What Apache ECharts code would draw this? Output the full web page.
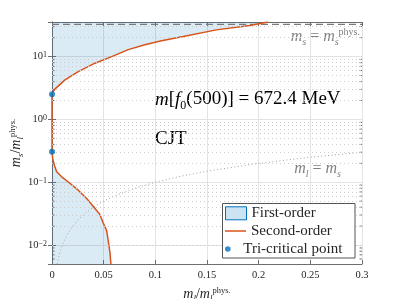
<!DOCTYPE html>
<html><head><meta charset="utf-8">
<script src="https://cdn.jsdelivr.net/npm/echarts@6/dist/echarts.min.js"></script>
<style>html,body{margin:0;padding:0;background:#fff}#c{width:399px;height:299px}</style>
</head><body><div id="c"></div>
<script>
// ---- data ----
const upperX = [0, 0.001, 0.003, 0.0126, 0.0254, 0.0416, 0.0577, 0.0738, 0.0899, 0.106, 0.127, 0.159, 0.1915, 0.209];
const upperY = [2.52, 2.75, 3.06, 4.26, 5.77, 7.85, 10.0, 12.9, 15.4, 17.8, 20.8, 26.6, 31.2, 35.5];
const lowerX = [0, 0.0008, 0.0023, 0.0045, 0.0094, 0.0158, 0.0254, 0.0340, 0.0416, 0.0464, 0.0496, 0.0529, 0.0545, 0.0561, 0.0570];
const lowerY = [0.305, 0.23, 0.187, 0.147, 0.122, 0.101, 0.0748, 0.054, 0.0383, 0.0305, 0.0225, 0.017, 0.0115, 0.0075, 0.005];
const triX = [0, 0];
const triY = [2.52, 0.305];
const msPhysX = [0, 0.3];
const msPhysY = [32.6, 32.6];
const mlEqMsX = [0.005, 0.006, 0.007, 0.008, 0.01, 0.0125, 0.015, 0.02, 0.025, 0.03, 0.04, 0.05, 0.06, 0.08, 0.1, 0.125, 0.15, 0.2, 0.25, 0.3];
const mlEqMsY = [0.005, 0.006, 0.007, 0.008, 0.01, 0.0125, 0.015, 0.02, 0.025, 0.03, 0.04, 0.05, 0.06, 0.08, 0.1, 0.125, 0.15, 0.2, 0.25, 0.3];
const yMajorTicks = [0.01, 0.1, 1, 10];
const yTickLabels = ['10{sup|−2}', '10{sup|−1}', '10{sup|0}', '10{sup|1}'];
const yMinorTicks = [0.006, 0.007, 0.008, 0.009, 0.02, 0.03, 0.04, 0.05, 0.06, 0.07, 0.08, 0.09,
  0.2, 0.3, 0.4, 0.5, 0.6, 0.7, 0.8, 0.9, 2, 3, 4, 5, 6, 7, 8, 9, 20, 30];
const xMin = 0, xMax = 0.3, xStep = 0.05;
const yMin = 0.005, yMax = 35.5;

const zip = (a, b) => a.map((v, i) => [v, b[i]]);
const secondOrder = zip(upperX, upperY).reverse().concat(zip(lowerX, lowerY));

const SERIF = 'Liberation Serif';
const BLUE = '#0072BD', ORANGE = '#D95319', FILL = 'rgba(0,114,189,0.2)';
const FRAME = '#6e6e6e', TXT = '#262626';

const chart = echarts.init(document.getElementById('c'), null, {renderer: 'canvas'});
const supRich = {sup: {fontSize: 8, fontFamily: SERIF, verticalAlign: 'top', lineHeight: 7, color: TXT}};
const nameRich = {
  i: {fontStyle: 'italic', fontFamily: SERIF, fontSize: 14, lineHeight: 17, color: TXT},
  n: {fontFamily: SERIF, fontSize: 14, lineHeight: 17, color: TXT},
  s: {fontStyle: 'italic', fontFamily: SERIF, fontSize: 9, verticalAlign: 'bottom', lineHeight: 9, color: TXT},
  p: {fontFamily: SERIF, fontSize: 8.5, verticalAlign: 'top', lineHeight: 8, color: TXT}
};
const legText = {fontFamily: SERIF, fontSize: 15, color: TXT};

chart.setOption({
  animation: false,
  grid: {left: 52, right: 37, top: 22, bottom: 35, outerBoundsMode: 'none', containLabel: false},
  xAxis: [{
    type: 'value', min: xMin, max: xMax, interval: xStep,
    axisLine: {onZero: false, lineStyle: {color: FRAME}},
    axisTick: {inside: true, length: 4, lineStyle: {color: FRAME}},
    axisLabel: {fontFamily: SERIF, fontSize: 10.5, color: TXT, margin: 6,
      formatter: v => String(+v.toFixed(2))},
    splitLine: {show: true, lineStyle: {color: '#e3e3e3'}},
    name: '{i|m}{s|l}{n|/}{i|m}{s|l}{p|phys.}', nameLocation: 'middle', nameGap: 22,
    nameTextStyle: {fontFamily: SERIF, fontSize: 14, color: TXT, rich: nameRich}
  }, {
    type: 'value', position: 'top', min: xMin, max: xMax, interval: xStep,
    axisLine: {onZero: false, lineStyle: {color: FRAME}},
    axisTick: {inside: true, length: 4, lineStyle: {color: FRAME}},
    axisLabel: {show: false}, splitLine: {show: false}
  }],
  yAxis: [{
    type: 'log', min: yMin, max: yMax, logBase: 10,
    axisLine: {lineStyle: {color: FRAME}},
    axisTick: {inside: true, length: 4, lineStyle: {color: FRAME}},
    axisLabel: {fontFamily: SERIF, fontSize: 10.5, color: TXT, margin: 5, rich: supRich,
      formatter: v => {
        const i = yMajorTicks.findIndex(t => Math.abs(Math.log10(t) - Math.log10(v)) < 1e-6);
        return i < 0 ? '' : yTickLabels[i];
      }},
    splitLine: {show: true, lineStyle: {color: '#e3e3e3'}},
    name: '{i|m}{s|s}{n|/}{i|m}{s|l}{p|phys.}', nameLocation: 'middle', nameGap: 27, nameRotate: 90,
    nameMoveOverlap: false,
    nameTextStyle: {fontFamily: SERIF, fontSize: 14, color: TXT, rich: nameRich}
  }, {
    type: 'log', position: 'right', min: yMin, max: yMax, logBase: 10,
    axisLine: {lineStyle: {color: FRAME}},
    axisTick: {inside: true, length: 4, lineStyle: {color: FRAME}},
    axisLabel: {show: false}, splitLine: {show: false}
  }],
  legend: [{
    left: 225, top: 205.8, padding: 0, itemWidth: 21, itemHeight: 13, selectedMode: false,
    textStyle: legText, z: 12,
    data: [{name: 'First-order', icon: 'rect', itemStyle: {color: FILL, borderColor: BLUE, borderWidth: 1}}]
  }, {
    left: 225, top: 223.5, padding: 0, itemWidth: 21, itemHeight: 13, selectedMode: false,
    textStyle: legText, z: 12,
    data: [{name: 'Second-order', icon: 'path://M0,0 L21,0 L21,1.5 L0,1.5 Z', itemStyle: {color: ORANGE}}]
  }, {
    left: 225, top: 241.5, padding: 0, itemWidth: 21, itemHeight: 13, selectedMode: false,
    textStyle: legText, z: 12,
    data: [{name: 'Tri-critical point', itemStyle: {color: BLUE},
      icon: 'path://M0,-6.5 L0,-6.5 M0,6.5 L0,6.5 M-2.8,0 A2.8,2.8 0 1,1 2.8,0 A2.8,2.8 0 1,1 -2.8,0 Z'}]
  }],
  graphic: [
    {type: 'rect', z: 10, shape: {x: 222.5, y: 203.5, width: 132.5, height: 54.5},
     style: {fill: '#fff', stroke: '#555', lineWidth: 1}},
    {type: 'text', left: 155, top: 90, z: 5,
     style: {text: '{i|m}[{i|f}{sub|0}(500)] = 672.4 MeV', fill: '#000',
       font: '19px "Liberation Serif"',
       rich: {i: {fontStyle: 'italic', fontSize: 19, fontFamily: SERIF, lineHeight: 24},
              sub: {fontSize: 12, fontFamily: SERIF, verticalAlign: 'bottom', lineHeight: 13}}}},
    {type: 'text', left: 155, top: 130, z: 5,
     style: {text: 'CJT', fill: '#000', font: '19px "Liberation Serif"'}},
    {type: 'text', right: 39, top: 27, z: 5,
     style: {text: '{i|m}{sub|s} = {i|m}{sub|s}{sup|phys.}', fill: '#808080',
       font: '16px "Liberation Serif"',
       rich: {i: {fontStyle: 'italic', fontSize: 16, fontFamily: SERIF, lineHeight: 20, fill: '#808080'},
              sub: {fontStyle: 'italic', fontSize: 10, fontFamily: SERIF, verticalAlign: 'bottom', lineHeight: 10, fill: '#808080'},
              sup: {fontSize: 10, fontFamily: SERIF, verticalAlign: 'top', lineHeight: 9, fill: '#808080'}}}},
    {type: 'text', right: 58, top: 161, z: 5,
     style: {text: '{i|m}{sub|l} = {i|m}{sub|s}', fill: '#808080',
       font: '16px "Liberation Serif"',
       rich: {i: {fontStyle: 'italic', fontSize: 16, fontFamily: SERIF, lineHeight: 20, fill: '#808080'},
              sub: {fontStyle: 'italic', fontSize: 10, fontFamily: SERIF, verticalAlign: 'bottom', lineHeight: 10, fill: '#808080'}}}}
  ],
  series: [
    {type: 'custom', name: 'minor', silent: true, z: 1,
     data: yMinorTicks.map(v => [0, v]),
     renderItem: (params, api) => {
       const v = api.value(1);
       const a = api.coord([xMin, v]), b = api.coord([xMax, v]);
       return {type: 'group', children: [
         {type: 'line', shape: {x1: a[0], y1: a[1], x2: a[0] + 2.5, y2: a[1]}, style: {stroke: FRAME, lineWidth: 1}},
         {type: 'line', shape: {x1: b[0] - 2.5, y1: b[1], x2: b[0], y2: b[1]}, style: {stroke: FRAME, lineWidth: 1}}
       ]};
     },
     markLine: {silent: true, symbol: ['none', 'none'], label: {show: false},
       lineStyle: {type: [1, 3], color: '#cdcdcd', width: 1},
       data: yMinorTicks.map(v => ({yAxis: v}))}
    },
    {type: 'line', name: 'First-order', data: zip(upperX, upperY), showSymbol: false, symbol: 'none',
     lineStyle: {width: 0}, areaStyle: {color: FILL, origin: 'end'}, z: 2},
    {type: 'line', name: 'First-order', data: zip(lowerX, lowerY), showSymbol: false, symbol: 'none',
     lineStyle: {width: 0}, areaStyle: {color: FILL, origin: 'start'}, z: 2},
    {type: 'line', name: 'ms=phys', data: zip(msPhysX, msPhysY), symbol: 'none',
     lineStyle: {color: '#7a7a7a', width: 1.3, type: [7, 4]}, z: 3},
    {type: 'line', name: 'ml=ms', data: zip(mlEqMsX, mlEqMsY), symbol: 'none', smooth: false,
     lineStyle: {color: '#a0a0a0', width: 1, type: [1, 2.5]}, z: 3},
    {type: 'line', name: 'Second-order', data: secondOrder, symbol: 'none',
     itemStyle: {color: ORANGE}, lineStyle: {color: ORANGE, width: 1.5}, z: 4},
    {type: 'scatter', name: 'Tri-critical point', data: zip(triX, triY), symbolSize: 6,
     itemStyle: {color: BLUE}, z: 5}
  ]
});
</script></body></html>
